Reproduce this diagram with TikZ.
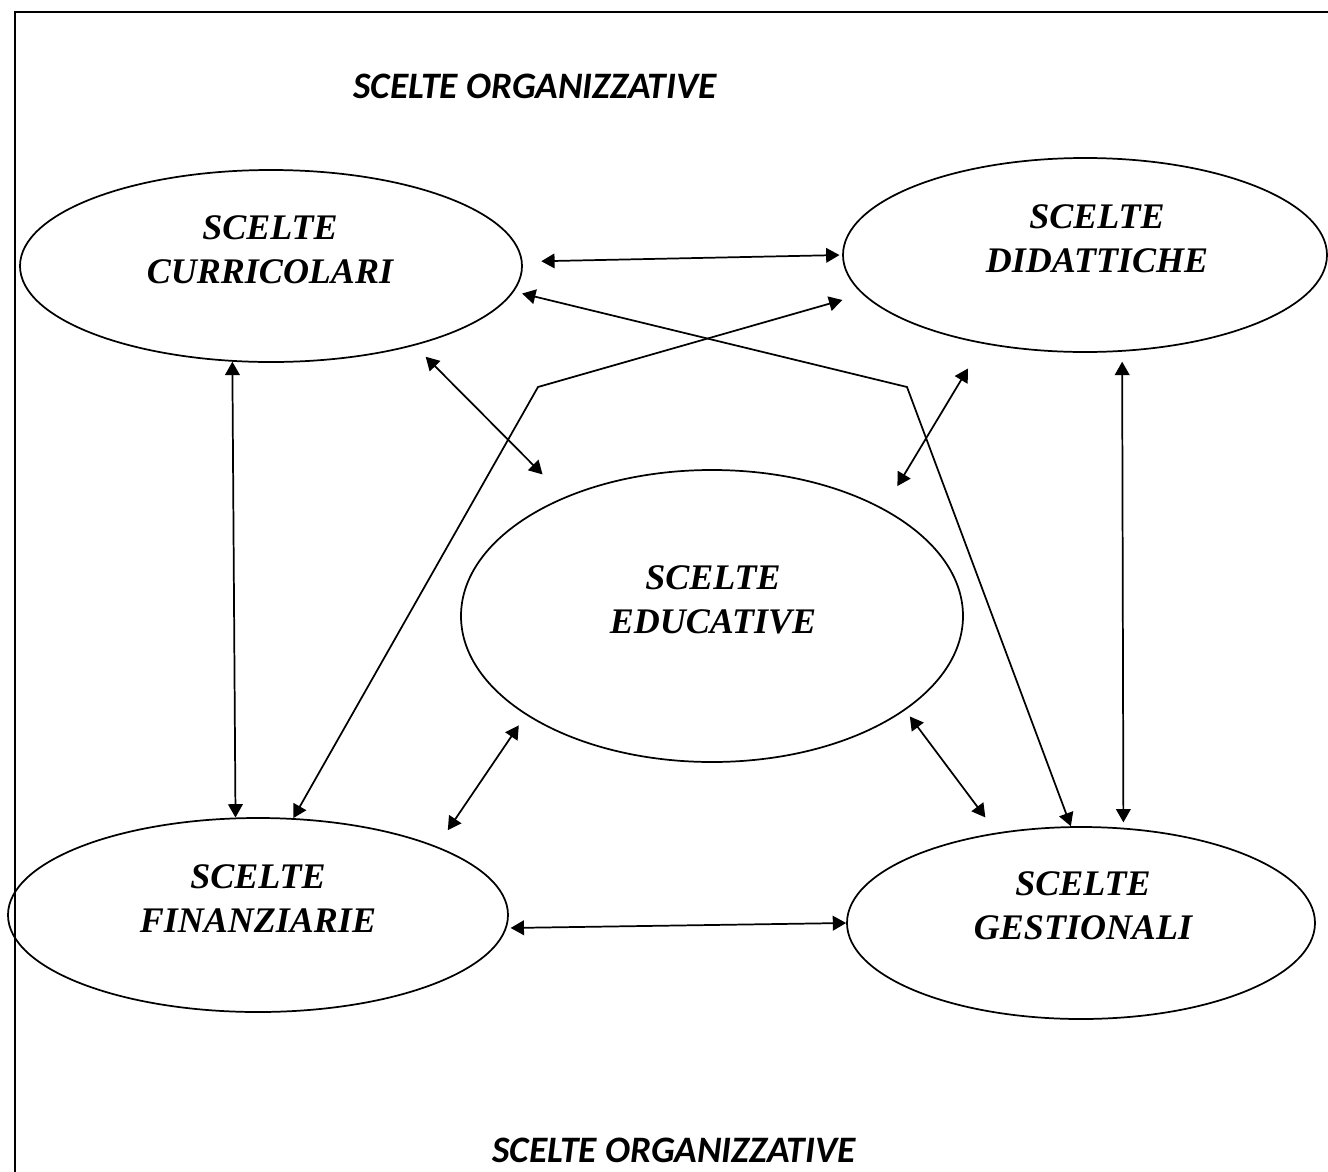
\documentclass[tikz,border=0pt]{standalone}
\usepackage{fontspec}
\setmainfont{Liberation Serif}
\newfontfamily\titlefont{Carlito}
\usetikzlibrary{arrows.meta,calc,shapes.geometric}

\begin{document}
\begin{tikzpicture}[x=0.75pt,y=-0.75pt,
    scelta/.style={draw=black, shape=ellipse, inner sep=0pt, line width=1.3pt},
    voce/.style={text=black, align=center, font=\fontsize{27}{33}\selectfont\bfseries\itshape},
    titolo/.style={text=black, font=\titlefont\fontsize{28}{32}\selectfont\bfseries\itshape},
    legame/.style={line width=1.3pt, {Triangle[length=10pt,width=11pt]}-{Triangle[length=10pt,width=11pt]}}]
  \useasboundingbox (0,0) rectangle (1328,1171);
  \clip (0,0) rectangle (1328,1171);
  \draw[line width=1.8pt] (15,12) rectangle (1345,1190);

  \node[titolo] (orgA) at (535,86) {SCELTE ORGANIZZATIVE};
  \node[titolo] (orgB) at (674,1150) {SCELTE ORGANIZZATIVE};

  \node[scelta, minimum width=376.5pt, minimum height=144pt] (cur) at (271,266) {};
  \node[scelta, minimum width=363pt, minimum height=145.5pt] (did) at (1085,255) {};
  \node[scelta, minimum width=376.5pt, minimum height=219pt] (edu) at (712,616) {};
  \node[scelta, minimum width=375pt, minimum height=145.5pt] (fin) at (258,915) {};
  \node[scelta, minimum width=351pt, minimum height=144pt] (ges) at (1081,923) {};

  \node[voce] (curT) at (270,250) {SCELTE\\CURRICOLARI};
  \node[voce] (didT) at (1097,239) {SCELTE\\DIDATTICHE};
  \node[voce] (eduT) at (713,600) {SCELTE\\EDUCATIVE};
  \node[voce] (finT) at (258,899) {SCELTE\\FINANZIARIE};
  \node[voce] (gesT) at (1083,906) {SCELTE\\GESTIONALI};

  \coordinate (pieL) at (538,387);
  \coordinate (pieR) at (907,387);

  \draw[legame, shorten <=14pt, shorten >=2pt] (cur.1.7) -- (did.180.7);
  \draw[legame] (cur.248) -- (fin.103);
  \draw[legame, shorten <=7.5pt, shorten >=4pt] (did.291) -- (ges.66.5);
  \draw[legame, shorten <=3pt] (fin.357) -- (ges.180);
  \draw[legame, shorten <=11.8pt, shorten >=23.7pt] (cur.331.6) -- (edu.141.3);
  \draw[legame, shorten <=21.6pt, shorten >=19.7pt] (did.221) -- (edu.32.1);
  \draw[legame, shorten <=9.5pt, shorten >=14.7pt] (edu.208.6) -- (fin.21.9);
  \draw[legame, shorten <=5.8pt, shorten >=14.2pt] (edu.334.5) -- (ges.133.9);
  \draw[legame, shorten >=15.7pt] (fin.70.2) -- (pieL) -- (did.190.6);
  \draw[legame, shorten >=6.3pt] (ges.96) -- (pieR) -- (cur.354.6);
\end{tikzpicture}
\end{document}
